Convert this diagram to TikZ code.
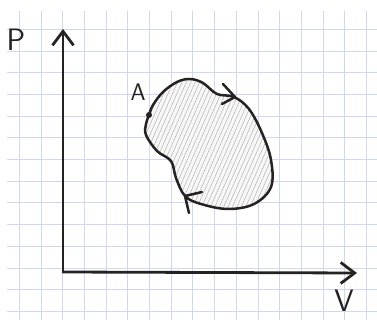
\documentclass[tikz,border=0pt]{standalone}
\usepackage{tikz}
\usetikzlibrary{arrows.meta}
\definecolor{gridblue}{RGB}{208,215,238}
\definecolor{pen}{RGB}{38,34,34}

\begin{document}
\begin{tikzpicture}[
    x=1pt, y=-1pt,
    grd/.style={gridblue, line width=0.9pt},
    ax/.style={-{Straight Barb[length=14pt,width=21pt]}, pen, line width=2.8pt, line cap=round, line join=round},
    ink/.style={pen, line width=2.5pt, line cap=round, line join=round},
    hatch/.style={black!35, line width=0.4pt},
    txt/.style={pen, font=\sffamily},
]
\useasboundingbox (0,0) rectangle (377,320);
% squared paper
\foreach \i in {0,...,16} {
  \draw[grd] ({19.3+21.7*\i},11) -- ({19.3+21.7*\i},320);
}
\foreach \j in {0,...,13} {
  \draw[grd] (7,{29.3+21.7*\j}) -- (377,{29.3+21.7*\j});
}
% axes
\coordinate (O) at (63,272);
\coordinate (Ptip) at (63,29);
\coordinate (Vtip) at (357,273);
\draw[ax] (O) -- (Ptip);
\draw[ax] (O) -- (Vtip);
\node[txt, font=\sffamily\fontsize{31}{33}\selectfont] (P) at (16,40) {P};
\node[txt, font=\sffamily\fontsize{31}{33}\selectfont] (V) at (344,301) {V};
% cycle
\def\cyc{plot[smooth cycle, tension=0.6] coordinates {
  (149,115) (153,105) (163,92) (177,82) (190,79) (203,83) (217,94)
  (234,97) (249,109) (262,133) (271,160) (271,187) (254,204) (228,209)
  (201,204) (185,196) (176,178) (171,161) (157,151) (146,135) (146,124)}}
\begin{scope}
  \clip \cyc;
  \fill[black!3] (140,70) rectangle (280,220);
  \foreach \k in {0,...,46} {
    \draw[hatch] ({78+4.4*\k},218) -- ++(64,-145);
  }
\end{scope}
\draw[ink] \cyc;
\fill[pen] (149,115) circle (3);
\node[txt, font=\sffamily\fontsize{24}{26}\selectfont] (A) at (138,92) {A};
% direction marks
\draw[ink] (223,84) -- (235,97) -- (222,104);
\draw[ink] (202,192) -- (185,196) -- (189,213);
\end{tikzpicture}
\end{document}
